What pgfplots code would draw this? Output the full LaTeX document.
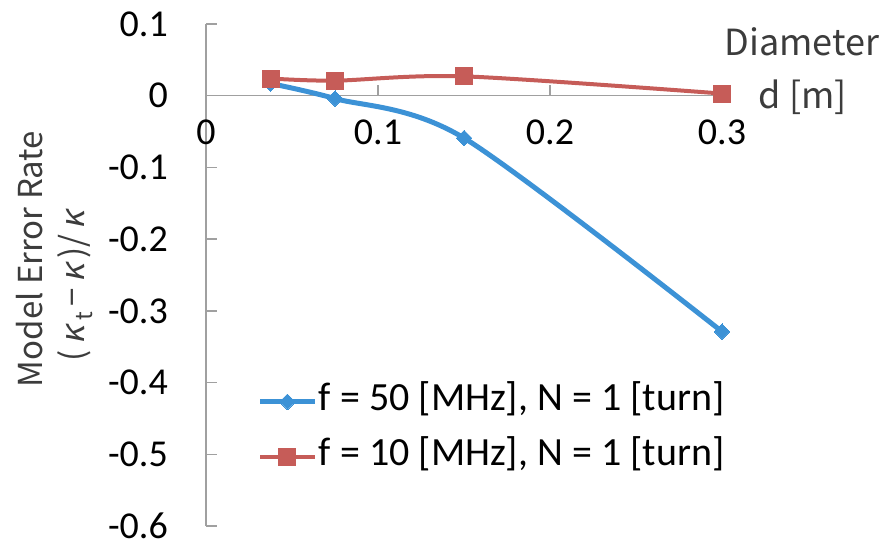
\documentclass[border=0pt]{standalone}
\usepackage{pgfplots}
\pgfplotsset{compat=1.18}
\usepackage{fontspec}
\setmainfont{Carlito}
\newfontfamily\jp{Noto Sans CJK JP}
\newfontfamily\jpit[FakeSlant=0.2]{Noto Sans CJK JP}
\definecolor{cblue}{RGB}{60,146,214}
\definecolor{cred}{RGB}{198,92,88}
\definecolor{axgray}{RGB}{160,160,160}
\definecolor{ttl}{RGB}{60,60,60}
\begin{document}
\begin{tikzpicture}
\useasboundingbox (-206pt,-20pt) rectangle (676pt,526pt);
\begin{axis}[
  at={(0pt,0pt)}, anchor=south west,
  scale only axis, width=516pt, height=502pt,
  xmin=0, xmax=0.3, ymin=-0.6, ymax=0.1,
  axis x line=middle, axis y line=left,
  axis line style={axgray, line width=1.5pt, -},
  xtick={0,0.1,0.2,0.3},
  ytick={-0.6,-0.5,-0.4,-0.3,-0.2,-0.1,0,0.1},
  tick style={axgray, line width=1.5pt},
  major tick length=11pt,
  tick align=inside,
  hide obscured x ticks=false, hide obscured y ticks=false,
  /pgf/number format/assume math mode=true,
  xticklabel style={font=\fontsize{38}{40}\selectfont, anchor=center, inner sep=0pt, yshift=-37pt},
  yticklabel style={font=\fontsize{38}{40}\selectfont, anchor=east, inner sep=0pt, xshift=-38pt},
  clip=false,
  legend style={at={(axis cs:0.0302,-0.3885)}, anchor=north west, draw=none, fill=none,
    inner sep=0pt, outer sep=0pt, row sep=0pt,
    font=\fontsize{40}{48}\selectfont,
    nodes={inner xsep=2pt, inner ysep=8pt, text height=28pt, text depth=11pt}},
  legend cell align=left,
  legend image code/.code={\draw[mark repeat=2,mark phase=2,#1] plot coordinates {(0pt,0pt) (27pt,0pt) (54pt,0pt)};},
]
\addplot[cblue, line width=5pt, smooth, tension=0.5, mark=square*, mark size=5.5pt, mark options={rotate=45, line width=0pt, fill=cblue}]
  coordinates {(0.0375,0.017) (0.075,-0.004) (0.15,-0.059) (0.3,-0.329)};
\addlegendentry{f = 50 [MHz], N = 1 [turn]}
\addplot[cred, line width=4pt, smooth, tension=0.5, mark=square*, mark size=8.5pt, mark options={line width=0pt, fill=cred}]
  coordinates {(0.0375,0.024) (0.075,0.021) (0.15,0.027) (0.3,0.003)};
\addlegendentry{f = 10 [MHz], N = 1 [turn]}
\end{axis}
\node[rotate=90, font=\jp\fontsize{33}{36}\selectfont, text=ttl, inner sep=0pt] at (-176pt,267pt) {Model Error Rate};
\node[rotate=90, font=\jp\fontsize{33}{36}\selectfont, text=ttl, inner sep=0pt] at (-131pt,240pt) {(\,{\jpit κ}\,\textsubscript{\jp t}\,−\,{\jpit κ}\,)/\,{\jpit κ}};
\node[font=\jp\fontsize{36}{40}\selectfont, text=ttl, inner sep=0pt] at (596pt,484pt) {Diameter};
\node[font=\jp\fontsize{36}{40}\selectfont, text=ttl, inner sep=0pt] at (597pt,429pt) {d [m]};
\end{tikzpicture}
\end{document}
